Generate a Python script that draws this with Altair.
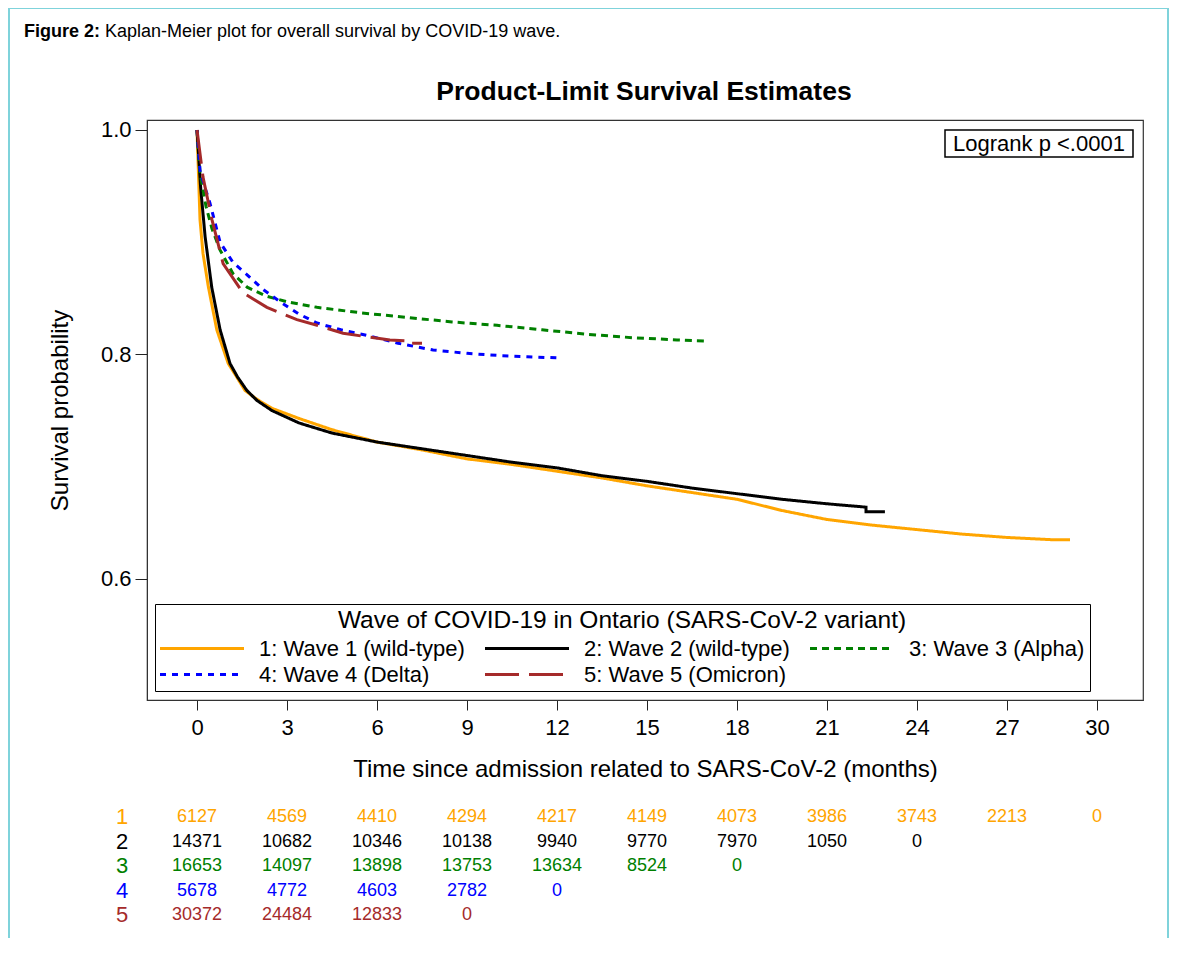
import altair as alt
import pandas as pd

# ---------------- data ----------------
waves = ["1: Wave 1 (wild-type)", "2: Wave 2 (wild-type)", "3: Wave 3 (Alpha)",
         "4: Wave 4 (Delta)", "5: Wave 5 (Omicron)"]
wave_ids = ["1", "2", "3", "4", "5"]
colors = ["#FFA500", "#000000", "#008000", "#0000FF", "#A52A2A"]
dashes = [[1, 0], [1, 0], [7, 5], [6, 6], [34, 10]]

w1_t = [0, 0.1, 0.2, 0.38, 0.66, 1.04, 1.3, 1.6, 2.0, 2.5, 3.4, 4.5, 6, 7.5, 9, 10.5, 12, 13.5,
        15, 16.5, 18, 19.5, 21, 22.5, 24, 25.5, 27, 28.5, 29.1]
w1_s = [1.0, 0.92, 0.89, 0.86, 0.822, 0.792, 0.781, 0.768, 0.760, 0.752, 0.743, 0.733, 0.722,
        0.715, 0.707, 0.702, 0.696, 0.690, 0.683, 0.677, 0.671, 0.661, 0.653, 0.648, 0.644,
        0.640, 0.637, 0.635, 0.635]

w2_t = [0, 0.12, 0.27, 0.49, 0.77, 1.1, 1.35, 1.66, 2.0, 2.5, 3.4, 4.5, 6, 7.5, 9, 10.5, 12,
        13.5, 15, 16.5, 18, 19.5, 21, 22.3, 22.3, 22.93]
w2_s = [1.0, 0.949, 0.905, 0.86, 0.822, 0.792, 0.780, 0.768, 0.759, 0.750, 0.739, 0.730, 0.722,
        0.716, 0.710, 0.704, 0.699, 0.692, 0.687, 0.681, 0.676, 0.671, 0.667, 0.664, 0.660, 0.660]

w3_t = [0, 0.1, 0.3, 0.5, 0.77, 1.2, 1.67, 2.3, 3.0, 4.0, 5.5, 7, 8.5, 10, 11.5, 13, 14.5, 16, 17]
w3_s = [1.0, 0.962, 0.932, 0.912, 0.893, 0.872, 0.860, 0.852, 0.847, 0.842, 0.837, 0.833, 0.829,
        0.826, 0.822, 0.818, 0.815, 0.813, 0.812]

w4_t = [0, 0.1, 0.25, 0.43, 0.77, 1.2, 1.67, 2.2, 2.77, 3.4, 4, 4.8, 5.67, 6.7, 7.87, 9, 10.1, 11, 12]
w4_s = [1.0, 0.964, 0.95, 0.935, 0.90, 0.882, 0.871, 0.858, 0.847, 0.836, 0.828, 0.822, 0.817,
        0.810, 0.804, 0.801, 0.799, 0.798, 0.797]

w5_t = [0, 0.2, 0.5, 0.87, 1.53, 2.33, 3.33, 4.0, 4.87, 5.6, 6.43, 7.1, 7.1, 7.5]
w5_s = [1.0, 0.958, 0.92, 0.881, 0.855, 0.842, 0.831, 0.826, 0.819, 0.816, 0.813, 0.812, 0.810, 0.810]

risk_times = [0, 3, 6, 9, 12, 15, 18, 21, 24, 27, 30]
risk_w1 = [6127, 4569, 4410, 4294, 4217, 4149, 4073, 3986, 3743, 2213, 0]
risk_w2 = [14371, 10682, 10346, 10138, 9940, 9770, 7970, 1050, 0]
risk_w3 = [16653, 14097, 13898, 13753, 13634, 8524, 0]
risk_w4 = [5678, 4772, 4603, 2782, 0]
risk_w5 = [30372, 24484, 12833, 0]

x_ticks = [0, 3, 6, 9, 12, 15, 18, 21, 24, 27, 30]
y_ticks = [0.6, 0.8, 1.0]

# ---------------- tables ----------------
curves = [(w1_t, w1_s), (w2_t, w2_s), (w3_t, w3_s), (w4_t, w4_s), (w5_t, w5_s)]
rows = []
idx = 0
for name, (ts, ss) in zip(waves, curves):
    for t, s in zip(ts, ss):
        rows.append({"wave": name, "t": t, "s": s, "idx": idx})
        idx += 1
curve_df = pd.DataFrame(rows)

risk_lists = [risk_w1, risk_w2, risk_w3, risk_w4, risk_w5]
risk_rows = []
for i, lst in enumerate(risk_lists):
    for t, n in zip(risk_times, lst):
        risk_rows.append({"row": i + 1, "t": t, "n": str(n)})
risk_df = pd.DataFrame(risk_rows)
label_df = pd.DataFrame({"row": [1, 2, 3, 4, 5], "lab": wave_ids})

FONT = "Liberation Sans"

x_enc = alt.X("t:Q",
              scale=alt.Scale(domain=[-1.667, 31.533], nice=False, zero=False),
              axis=alt.Axis(values=x_ticks, title="Time since admission related to SARS-CoV-2 (months)",
                            grid=False, tickSize=10, labelPadding=7, labelFontSize=22,
                            titleFontSize=24, titleFontWeight="normal", titlePadding=19,
                            labelFont=FONT, titleFont=FONT, labelColor="black", titleColor="black",
                            tickColor="#222", domainColor="#333", labelFlush=False))

leg = alt.Legend(
    title="Wave of COVID-19 in Ontario (SARS-CoV-2 variant)",
    orient="none", legendX=8, legendY=484, direction="horizontal", columns=3,
    symbolType="M-7,0H7", symbolSize=144, symbolStrokeWidth=3,
    symbolOffset=31, labelOffset=46,
    labelFontSize=22, labelFont=FONT, labelLimit=500, labelColor="black",
    titleFontSize=24.5, titleFont=FONT, titleFontWeight="normal", titleAnchor="middle",
    titleLimit=1000, titleColor="black", titlePadding=4,
    columnPadding=14, rowPadding=4, padding=5,
    strokeColor="black", fillColor="white",
)

lines = alt.Chart(curve_df).mark_line(strokeWidth=3).encode(
    x=x_enc,
    y=alt.Y("s:Q", scale=alt.Scale(domain=[0.4922, 1.0089], nice=False, zero=False),
            axis=alt.Axis(values=y_ticks, format=".1f", title="Survival probability", grid=False,
                          tickSize=12, labelPadding=4, labelFontSize=22, titleFontSize=24,
                          titleFontWeight="normal", titlePadding=28, labelFont=FONT, titleFont=FONT,
                          labelColor="black", titleColor="black", tickColor="#222",
                          domainColor="#333")),
    color=alt.Color("wave:N", scale=alt.Scale(domain=waves, range=colors), legend=leg),
    strokeDash=alt.StrokeDash("wave:N", scale=alt.Scale(domain=waves, range=dashes), legend=leg),
    order=alt.Order("idx:Q"),
)

row_scale = alt.Scale(domain=[1, 5], range=[697, 795])
risk_layers = []
for i in range(5):
    risk_layers.append(
        alt.Chart(risk_df[risk_df["row"] == i + 1]).mark_text(
            fontSize=18, font=FONT, color=colors[i], baseline="middle", align="center"
        ).encode(x=x_enc, y=alt.Y("row:Q", scale=row_scale, axis=None), text="n:N")
    )
    risk_layers.append(
        alt.Chart(label_df[label_df["row"] == i + 1]).mark_text(
            fontSize=22, font=FONT, color=colors[i], baseline="middle", align="center"
        ).encode(x=alt.value(-25), y=alt.Y("row:Q", scale=row_scale, axis=None), text="lab:N")
    )

one = pd.DataFrame({"k": [0]})
border = alt.Chart(one).mark_rect(fillOpacity=0, stroke="#7FD3DB", strokeWidth=2).encode(
    x=alt.value(-138), x2=alt.value(1021), y=alt.value(-112), y2=alt.value(900))

title_txt = alt.Chart(one).mark_text(text="Product-Limit Survival Estimates", fontSize=26.5,
                                     fontWeight="bold", font=FONT, align="center",
                                     baseline="alphabetic", color="black").encode(
    x=alt.value(497), y=alt.value(-20))

cap_bold = alt.Chart(one).mark_text(text="Figure 2:", fontSize=18, fontWeight="bold", font=FONT,
                                    align="left", baseline="middle", color="black").encode(
    x=alt.value(-123), y=alt.value(-88))
cap_rest = alt.Chart(one).mark_text(text="Kaplan-Meier plot for overall survival by COVID-19 wave.",
                                    fontSize=18, font=FONT, align="left", baseline="middle",
                                    color="black").encode(
    x=alt.value(-42), y=alt.value(-88))

lr_box = alt.Chart(one).mark_rect(fill="white", stroke="black", strokeWidth=1.5).encode(
    x=alt.value(798), x2=alt.value(986), y=alt.value(10), y2=alt.value(37))
lr_txt = alt.Chart(one).mark_text(text="Logrank p <.0001", fontSize=22, font=FONT, align="center",
                                  baseline="middle", color="black").encode(
    x=alt.value(892), y=alt.value(24))

chart = alt.layer(border, lines, *risk_layers, title_txt, cap_bold, cap_rest, lr_box, lr_txt).resolve_scale(
    y="independent"
).properties(
    width=996, height=580,
    autosize=alt.AutoSizeParams(type="none"),
    padding={"left": 139, "top": 112, "right": 27, "bottom": 238},
).configure(
    font=FONT, view=alt.ViewConfig(stroke="#333", strokeWidth=1.2)
)

chart.save("out.html", embed_options={"renderer": "svg", "actions": False})
